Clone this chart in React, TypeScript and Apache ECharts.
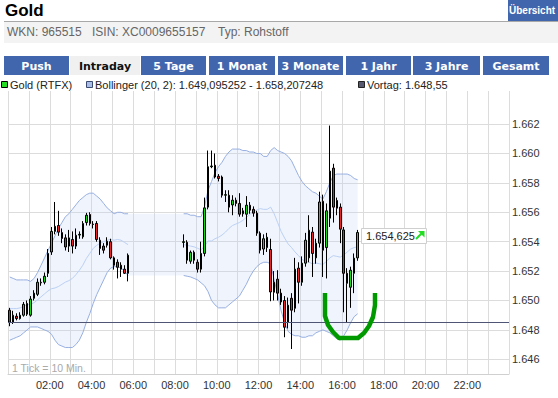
import React, { useEffect, useRef } from 'react';
import * as echarts from 'echarts';

// ---------- data ----------
// 10-minute slots of the trading day (00:00 .. 23:50)
const slotLabels: string[] = Array.from({ length: 144 }, (_, i) =>
  `${String(Math.floor(i / 6)).padStart(2, '0')}:${String((i % 6) * 10).padStart(2, '0')}`
);

// candles: [open, close, low, high]
const session1Start = 0;
const session1: number[][] = [
  [1649.34, 1648.52, 1648.25, 1649.5],
  [1648.52, 1649.0, 1648.4, 1649.3],
  [1648.93, 1648.77, 1648.65, 1649.13],
  [1648.77, 1649.0, 1648.7, 1649.2],
  [1649.0, 1649.74, 1648.9, 1649.9],
  [1649.8, 1649.07, 1648.95, 1650.0],
  [1649.0, 1650.1, 1648.9, 1650.3],
  [1650.15, 1650.5, 1650.0, 1650.7],
  [1650.42, 1651.24, 1650.3, 1651.5],
  [1651.24, 1651.2, 1651.0, 1651.5],
  [1651.24, 1651.65, 1651.1, 1651.9],
  [1651.85, 1653.2, 1651.6, 1653.5],
  [1653.3, 1654.7, 1653.1, 1655.0],
  [1654.7, 1655.05, 1654.5, 1656.7],
  [1655.1, 1654.65, 1654.4, 1656.1],
  [1654.62, 1654.22, 1653.9, 1654.9],
  [1654.26, 1653.64, 1653.4, 1654.5],
  [1653.7, 1654.26, 1653.3, 1654.8],
  [1654.15, 1653.7, 1653.2, 1654.7],
  [1653.7, 1654.44, 1653.5, 1654.9],
  [1654.45, 1654.5, 1654.2, 1654.7],
  [1654.33, 1655.24, 1654.2, 1655.4],
  [1655.3, 1655.8, 1655.1, 1655.96],
  [1655.85, 1655.24, 1655.1, 1656.0],
  [1655.2, 1655.17, 1654.9, 1655.4],
  [1655.24, 1654.15, 1654.0, 1655.4],
  [1654.1, 1653.54, 1653.1, 1654.3],
  [1653.7, 1653.42, 1653.2, 1653.9],
  [1653.76, 1654.03, 1653.6, 1654.3],
  [1654.0, 1652.9, 1652.8, 1654.2],
  [1652.9, 1652.4, 1652.1, 1653.0],
  [1652.6, 1652.26, 1651.5, 1652.8],
  [1652.4, 1652.13, 1651.6, 1652.6],
  [1652.13, 1651.85, 1651.8, 1652.4],
  [1651.85, 1653.08, 1651.3, 1653.2],
];

const session2Start = 50;
const session2: number[][] = [
  [1653.95, 1654.0, 1653.6, 1654.5],
  [1653.96, 1652.74, 1652.5, 1654.1],
  [1652.67, 1653.28, 1652.5, 1653.4],
  [1653.28, 1652.74, 1652.5, 1653.4],
  [1652.6, 1652.13, 1651.9, 1652.8],
  [1652.13, 1653.2, 1651.9, 1654.0],
  [1653.2, 1656.3, 1653.0, 1657.0],
  [1656.35, 1659.1, 1656.2, 1660.2],
  [1659.1, 1659.15, 1659.0, 1660.2],
  [1659.2, 1658.4, 1658.3, 1660.0],
  [1658.45, 1658.3, 1658.1, 1658.6],
  [1658.4, 1657.16, 1657.0, 1658.5],
  [1657.16, 1657.2, 1656.7, 1657.5],
  [1657.16, 1656.35, 1656.0, 1657.5],
  [1656.5, 1656.82, 1655.8, 1657.16],
  [1656.82, 1656.6, 1656.4, 1657.0],
  [1656.6, 1655.87, 1655.7, 1657.3],
  [1655.9, 1656.1, 1655.7, 1656.3],
  [1655.87, 1656.48, 1655.0, 1657.1],
  [1656.48, 1656.14, 1655.9, 1656.7],
  [1656.2, 1655.94, 1655.7, 1656.4],
  [1655.94, 1654.58, 1654.4, 1656.1],
  [1654.58, 1653.42, 1653.2, 1654.7],
  [1653.5, 1654.2, 1653.1, 1654.5],
  [1653.6, 1654.3, 1653.3, 1654.6],
  [1653.47, 1650.58, 1649.95, 1654.2],
  [1651.24, 1650.56, 1650.0, 1652.0],
  [1651.45, 1650.5, 1650.0, 1652.06],
  [1650.5, 1649.9, 1649.7, 1650.8],
  [1650.0, 1648.18, 1647.5, 1650.3],
  [1648.52, 1649.68, 1648.1, 1650.2],
  [1650.15, 1649.34, 1646.7, 1650.5],
  [1649.47, 1652.13, 1649.2, 1652.9],
  [1652.2, 1651.24, 1649.8, 1652.6],
  [1651.24, 1652.54, 1651.0, 1653.0],
  [1652.54, 1654.1, 1652.3, 1654.6],
  [1652.9, 1654.78, 1652.6, 1655.8],
  [1654.65, 1653.2, 1651.6, 1655.0],
  [1652.9, 1653.9, 1652.5, 1654.2],
  [1653.9, 1656.7, 1653.6, 1657.4],
  [1656.75, 1653.42, 1651.6, 1657.2],
  [1653.6, 1656.1, 1651.5, 1656.6],
  [1655.6, 1658.8, 1655.0, 1661.9],
  [1659.0, 1656.35, 1655.3, 1659.3],
  [1656.8, 1656.28, 1655.8, 1657.0],
  [1656.35, 1654.85, 1653.9, 1656.6],
  [1654.8, 1651.85, 1649.2, 1655.0],
  [1651.85, 1651.17, 1648.5, 1652.2],
  [1650.9, 1652.06, 1649.5, 1652.3],
  [1651.85, 1652.88, 1650.5, 1653.2],
  [1652.9, 1654.625, 1652.7, 1654.8],
];

// Bollinger (20, 2) per slot 0..100
const bbUpper: number[] = [
  1651.6, 1651.5, 1651.4, 1651.4, 1651.4, 1651.4, 1651.3, 1651.5, 1651.9, 1652.4,
  1652.9, 1653.4, 1653.9, 1654.4, 1654.9, 1655.3, 1655.7, 1655.9, 1656.2, 1656.5,
  1656.8, 1657.0, 1657.2, 1657.3, 1657.3, 1657.1, 1656.9, 1656.6, 1656.3, 1656.1,
  1655.9, 1656.0, 1656.0, 1655.9, 1655.9,
  1655.9, 1655.9, 1655.9, 1655.9, 1655.9, 1655.9, 1655.9, 1655.9, 1655.9, 1655.9,
  1655.9, 1655.9, 1655.9, 1655.9, 1655.9,
  1655.9, 1655.9, 1655.8, 1655.8, 1655.7, 1655.7, 1656.4, 1657.5, 1658.1, 1658.7,
  1659.1, 1659.4, 1659.8, 1660.1, 1660.3, 1660.3, 1660.3, 1660.2, 1660.2, 1660.1,
  1660.1, 1660.0, 1660.0, 1659.8, 1659.8, 1660.2, 1660.4, 1660.2, 1660.1, 1660.0,
  1659.8, 1659.5, 1659.0, 1658.5, 1658.1, 1657.8, 1657.6, 1657.4, 1657.3, 1657.1,
  1656.9, 1657.4, 1658.0, 1658.5, 1658.6, 1658.6, 1658.6, 1658.6, 1658.5, 1658.3,
  1658.207248,
];
const bbLower: number[] = [
  1647.3, 1647.4, 1647.5, 1647.6, 1647.8, 1648.0, 1648.2, 1648.2, 1648.2, 1648.1,
  1648.0, 1647.9, 1647.7, 1647.3, 1647.0, 1646.9, 1646.8, 1646.8, 1646.8, 1647.0,
  1647.3, 1647.8, 1648.5, 1649.1, 1649.8, 1650.4, 1650.9, 1651.4, 1651.9, 1652.2,
  1652.3, 1652.3, 1652.2, 1652.0, 1651.7,
  1651.7, 1651.7, 1651.7, 1651.7, 1651.7, 1651.7, 1651.7, 1651.7, 1651.7, 1651.7,
  1651.7, 1651.7, 1651.7, 1651.7, 1651.7,
  1651.7, 1651.65, 1651.6, 1651.5, 1651.4, 1651.2, 1651.0, 1650.6, 1650.0, 1649.7,
  1649.5, 1649.5, 1649.5, 1649.7, 1649.9, 1650.1, 1650.3, 1650.7, 1651.1, 1651.6,
  1652.0, 1652.3, 1652.5, 1652.6, 1652.6, 1652.5, 1651.4, 1650.4, 1649.3, 1648.5,
  1647.9, 1647.7, 1647.6, 1647.6, 1647.5, 1647.5, 1647.6, 1647.6, 1647.8, 1647.9,
  1648.0, 1647.9, 1647.8, 1647.6, 1647.4, 1647.3, 1647.6, 1648.0, 1648.5, 1648.9,
  1649.095252,
];
const bbMiddle: (number | null)[] = [
  1649.45, 1649.45, 1649.45, 1649.5, 1649.6, 1649.7, 1649.75, 1649.85, 1650.05, 1650.25,
  1650.45, 1650.65, 1650.8, 1650.85, 1650.95, 1651.1, 1651.25, 1651.35, 1651.5, 1651.75,
  1652.05, 1652.4, 1652.85, 1653.2, 1653.55, 1653.75, 1653.9, 1654.0, 1654.1, 1654.15,
  1654.1, 1654.15, 1654.1, 1653.95, 1653.8,
  null, null, null, null, null, null, null, null, null, null, null, null, null, null, null,
  1653.8, 1653.75, 1653.7, 1653.65, 1653.55, 1653.45, 1653.7, 1654.05, 1654.05, 1654.2,
  1654.3, 1654.45, 1654.65, 1654.9, 1655.1, 1655.2, 1655.3, 1655.45, 1655.65, 1655.85,
  1656.05, 1656.15, 1656.25, 1656.2, 1656.2, 1656.35, 1655.9, 1655.3, 1654.7, 1654.25,
  1653.85, 1653.6, 1653.3, 1653.05, 1652.8, 1652.65, 1652.6, 1652.5, 1652.55, 1652.5,
  1652.45, 1652.65, 1652.9, 1653.05, 1653.0, 1652.95, 1653.1, 1653.3, 1653.5, 1653.6,
  1653.65,
];

const vortag = 1648.55;
const lastPrice = 1654.625;
const yGridValues = [1646, 1648, 1650, 1652, 1654, 1656, 1658, 1660, 1662];
const hourLabels = [2, 4, 6, 8, 10, 12, 14, 16, 18, 20, 22];

const tabs = [
  { label: 'Push', x: 4, w: 65 },
  { label: 'Intraday', x: 70, w: 70, active: true },
  { label: '5 Tage', x: 141, w: 65 },
  { label: '1 Monat', x: 209, w: 66 },
  { label: '3 Monate', x: 278, w: 65 },
  { label: '1 Jahr', x: 346, w: 65 },
  { label: '3 Jahre', x: 413, w: 67 },
  { label: 'Gesamt', x: 483, w: 66 },
];

// ---------- helpers ----------
const fmtDE = (v: number, dec: number) => {
  const [ip, fp] = v.toFixed(dec).split('.');
  const s = ip.replace(/\B(?=(\d{3})+(?!\d))/g, '.');
  return dec > 0 ? `${s},${fp}` : s;
};

const EMPTY = ['-', '-', '-', '-'];
const candleData = slotLabels.map((_, i) => {
  if (i >= session1Start && i < session1Start + session1.length) return session1[i - session1Start];
  if (i >= session2Start && i < session2Start + session2.length) return session2[i - session2Start];
  return EMPTY;
});
const hasCandle = (i: number) => candleData[i] !== EMPTY;
const upperLine = bbUpper.map((v, i) => (hasCandle(i) ? v : '-'));
const lowerLine = bbLower.map((v, i) => (hasCandle(i) ? v : '-'));
const middleLine = bbMiddle.map((v) => (v == null ? '-' : v));
const bandWidth = bbUpper.map((u, i) => +(u - bbLower[i]).toFixed(6));

const BLUE = '#4266ad';
const FONT = '"Liberation Sans", Arial, sans-serif';
const TABFONT = 'bold 11px "DejaVu Sans", Verdana, sans-serif';

const yMin = 1645;
const yMax = 1664.25;
const yLineColors = Array.from({ length: Math.floor(yMax - yMin) + 2 }, (_, k) =>
  yGridValues.includes(yMin + k) ? '#dcdcdc' : 'rgba(0,0,0,0)'
);

function buildGraphic(): any[] {
  const els: any[] = [];
  // title
  els.push({ type: 'text', x: 5, y: 10, z: 100, style: { text: 'Gold', font: `bold 17px ${FONT}`, fill: '#000', textVerticalAlign: 'middle', verticalAlign: 'middle' } });
  els.push({ type: 'rect', z: 100, shape: { x: 4, y: 21, width: 554, height: 1 }, style: { fill: '#a8a8a8' } });
  els.push({ type: 'rect', z: 100, shape: { x: 4, y: 22, width: 554, height: 21 }, style: { fill: '#f3f3f3' } });
  const info = [
    { t: 'WKN: 965515', x: 7 },
    { t: 'ISIN: XC0009655157', x: 92 },
    { t: 'Typ: Rohstoff', x: 218 },
  ];
  info.forEach((it) =>
    els.push({ type: 'text', x: it.x, y: 32, z: 101, style: { text: it.t, font: `12px ${FONT}`, fill: '#666', textVerticalAlign: 'middle', verticalAlign: 'middle' } })
  );
  // Übersicht button
  els.push({ type: 'rect', z: 100, shape: { x: 508, y: 0, width: 50, height: 21 }, style: { fill: BLUE } });
  els.push({ type: 'text', x: 509, y: 10, z: 101, style: { text: 'Übersicht', font: `bold 10px ${FONT}`, fill: '#fff', textVerticalAlign: 'middle', verticalAlign: 'middle' } });
  // tabs
  tabs.forEach((tb) => {
    els.push({ type: 'rect', z: 100, shape: { x: tb.x, y: 56, width: tb.w, height: 19 }, style: { fill: tb.active ? '#f0f0f0' : BLUE } });
    els.push({
      type: 'text', x: tb.x + tb.w / 2, y: 66, z: 101,
      style: { text: tb.label, font: TABFONT, fill: tb.active ? '#111' : '#fff', textAlign: 'center', align: 'center', textVerticalAlign: 'middle', verticalAlign: 'middle' },
    });
  });
  // legend
  const legend = [
    { sq: 1, tx: 10, fill: '#22dd22', stroke: '#000', text: 'Gold (RTFX)' },
    { sq: 86, tx: 95, fill: '#a9bde6', stroke: '#3a4a70', text: `Bollinger (20, 2): ${fmtDE(bbLower[bbLower.length - 1], 6)} - ${fmtDE(bbUpper[bbUpper.length - 1], 6)}` },
    { sq: 358, tx: 367, fill: '#55586e', stroke: '#222', text: `Vortag: ${fmtDE(vortag, 2)}` },
  ];
  legend.forEach((lg) => {
    els.push({ type: 'rect', z: 100, shape: { x: lg.sq + 0.5, y: 81.5, width: 6, height: 6 }, style: { fill: lg.fill, stroke: lg.stroke, lineWidth: 1 } });
    els.push({ type: 'text', x: lg.tx, y: 85, z: 101, style: { text: lg.text, font: `11px ${FONT}`, fill: '#222', textVerticalAlign: 'middle', verticalAlign: 'middle' } });
  });
  // tick note
  els.push({ type: 'text', x: 12, y: 368, z: 101, style: { text: '1 Tick = 10 Min.', font: `10.5px ${FONT}`, fill: '#aaaaaa', textVerticalAlign: 'middle', verticalAlign: 'middle' } });
  // price tag
  els.push({ type: 'rect', z: 100, shape: { x: 361.5, y: 228.5, width: 65, height: 15 }, style: { fill: '#fff', stroke: '#cfcfcf', lineWidth: 1 } });
  els.push({ type: 'text', x: 366, y: 236, z: 101, style: { text: fmtDE(lastPrice, 3), font: `11px ${FONT}`, fill: '#222', textVerticalAlign: 'middle', verticalAlign: 'middle' } });
  els.push({ type: 'line', z: 101, shape: { x1: 416, y1: 239, x2: 422, y2: 233 }, style: { stroke: '#22dd22', lineWidth: 2 } });
  els.push({ type: 'polygon', z: 101, shape: { points: [[418, 231], [424.5, 231], [424.5, 237.5]] }, style: { fill: '#22dd22' } });
  // hand-drawn U annotation
  els.push({
    type: 'polyline', z: 102,
    shape: { points: [[325, 293], [325, 316], [328, 325], [333, 332], [339, 338], [358, 338], [364, 333], [369, 326], [373, 317], [375, 305], [375, 293]] },
    style: { stroke: '#009a00', lineWidth: 4.5, fill: null, lineJoin: 'round' },
  });
  return els;
}

export default function App() {
  const ref = useRef<HTMLDivElement>(null);
  useEffect(() => {
    if (!ref.current) return;
    const chart = echarts.init(ref.current, undefined, { renderer: 'svg' });
    chart.setOption({
      animation: false,
      backgroundColor: '#ffffff',
      grid: { left: 8, right: 49, top: 91, bottom: 24, containLabel: false },
      xAxis: [
        { type: 'category', data: slotLabels, boundaryGap: true, show: false, position: 'top' },
        {
          type: 'value', min: 0, max: 24, interval: 1, position: 'bottom',
          axisLine: { show: true, onZero: false, lineStyle: { color: '#d0d0d0', width: 1 } },
          axisTick: { show: false },
          splitLine: { show: true, lineStyle: { color: '#dcdcdc', width: 1 } },
          axisLabel: {
            margin: 5, color: '#333', fontSize: 11, fontFamily: FONT,
            formatter: (v: number) => (hourLabels.includes(v) ? `${String(v).padStart(2, '0')}:00` : ''),
          },
        },
      ],
      yAxis: {
        type: 'value', position: 'right', min: yMin, max: yMax, interval: 1,
        axisLine: { show: false }, axisTick: { show: false },
        splitLine: { show: true, lineStyle: { color: yLineColors, width: 1 } },
        axisLabel: {
          margin: 3, color: '#333', fontSize: 11, fontFamily: FONT,
          formatter: (v: number) => (yGridValues.includes(v) ? fmtDE(v, 0) : ''),
        },
      },
      series: [
        {
          type: 'line', name: 'bbBase', data: bbLower, stack: 'bb', symbol: 'none', silent: true,
          lineStyle: { width: 0, opacity: 0 }, z: 1,
        },
        {
          type: 'line', name: 'bbFill', data: bandWidth, stack: 'bb', symbol: 'none', silent: true,
          lineStyle: { width: 0, opacity: 0 }, areaStyle: { color: 'rgba(185,206,245,0.33)' }, z: 1,
        },
        { type: 'line', name: 'upper', data: upperLine, symbol: 'none', silent: true, lineStyle: { color: '#98afe0', width: 1 }, z: 2 },
        { type: 'line', name: 'lower', data: lowerLine, symbol: 'none', silent: true, lineStyle: { color: '#98afe0', width: 1 }, z: 2 },
        { type: 'line', name: 'middle', data: middleLine, symbol: 'none', silent: true, lineStyle: { color: '#bcd0f3', width: 1 }, z: 2 },
        {
          type: 'candlestick', name: 'Gold (RTFX)', data: candleData, barWidth: 2, z: 3,
          itemStyle: {
            color: '#11dd11', color0: '#ee2222', borderColor: '#000', borderColor0: '#000',
            borderColorDoji: '#000', borderWidth: 1,
          },
          markLine: {
            silent: true, symbol: 'none', label: { show: false },
            lineStyle: { color: '#4f5675', width: 1, type: 'solid' },
            data: [{ yAxis: vortag }],
          },
        },
      ],
      graphic: buildGraphic(),
    });
    return () => chart.dispose();
  }, []);
  return <div ref={ref} style={{ position: 'absolute', left: 0, top: 0, width: 558, height: 398 }} />;
}
